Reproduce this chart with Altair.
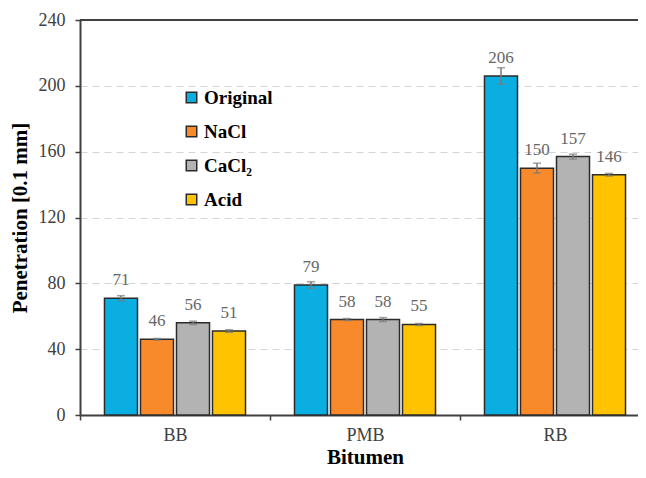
import altair as alt
import pandas as pd

bitumen = ["BB", "PMB", "RB"]
treatments = ["Original", "NaCl", "CaCl₂", "Acid"]
original = [71, 79, 206]
nacl = [46, 58, 150]
cacl2 = [56, 58, 157]
acid = [51, 55, 146]
original_err = [1.5, 2.0, 5.0]
nacl_err = [0.5, 0.6, 3.0]
cacl2_err = [1.0, 1.2, 1.5]
acid_err = [0.8, 0.6, 0.8]
colors = ["#0BAEE0", "#F98A2B", "#B3B3B3", "#FFC300"]
y_ticks = [0, 40, 80, 120, 160, 200, 240]

rows = []
for i, b in enumerate(bitumen):
    for t, vals, errs in zip(treatments, [original, nacl, cacl2, acid],
                             [original_err, nacl_err, cacl2_err, acid_err]):
        rows.append(dict(Bitumen=b, Treatment=t, value=vals[i], err=errs[i],
                         lo=vals[i] - errs[i], hi=vals[i] + errs[i]))
df = pd.DataFrame(rows)

FONT = "Liberation Serif"
DARK = "#404040"

x = alt.X("Bitumen:N", sort=bitumen,
          scale=alt.Scale(range=[0, 570], paddingInner=0, paddingOuter=0),
          axis=alt.Axis(title="Bitumen", labelAngle=0, tickBand="extent",
                        domainColor=DARK, domainWidth=2, tickColor=DARK, tickWidth=1.5,
                        tickSize=5, labelFont=FONT, labelFontSize=18, labelColor="#404040",
                        labelPadding=6, titleFont=FONT, titleFontSize=21,
                        titleFontWeight="bold", titleColor="black", titlePadding=2,
                        grid=False))
xoff = alt.XOffset("Treatment:N", sort=treatments,
                   scale=alt.Scale(paddingInner=0.083, paddingOuter=0.68))
yscale = alt.Scale(domain=[0, 240], nice=False)

base = alt.Chart(df)

bars = base.mark_bar(stroke="#2b2b2b", strokeWidth=1.5).encode(
    x=x,
    xOffset=xoff,
    y=alt.Y("value:Q", scale=yscale,
            axis=alt.Axis(title="Penetration  [0.1 mm]", values=y_ticks,
                          domainColor=DARK, domainWidth=2, tickColor=DARK, tickWidth=1.5,
                          tickSize=5, labelFont=FONT, labelFontSize=18, labelColor="#404040",
                          labelPadding=10, titleFont=FONT, titleFontSize=21,
                          titleFontWeight="bold", titleColor="black", titlePadding=8,
                          grid=True, gridColor="#d4d4d4", gridDash=[7, 5], gridWidth=1.2)),
    color=alt.Color("Treatment:N", sort=treatments,
                    scale=alt.Scale(domain=treatments, range=colors),
                    legend=alt.Legend(title=None, orient="none", legendX=102, legendY=68,
                                      symbolType="square", symbolSize=110,
                                      symbolStrokeColor="#2b2b2b", symbolStrokeWidth=1.5,
                                      labelFont=FONT, labelFontSize=19, labelFontWeight="bold",
                                      labelColor="black", rowPadding=14, padding=0,
                                      labelOffset=3)),
)

err_rule = base.mark_rule(color="#7a7a7a", strokeWidth=1.5).encode(
    x=x, xOffset=xoff, y=alt.Y("lo:Q", scale=yscale), y2="hi:Q")
cap_lo = base.mark_tick(color="#7a7a7a", size=8, thickness=1.5).encode(
    x=x, xOffset=xoff, y=alt.Y("lo:Q", scale=yscale))
cap_hi = base.mark_tick(color="#7a7a7a", size=8, thickness=1.5).encode(
    x=x, xOffset=xoff, y=alt.Y("hi:Q", scale=yscale))

labels = base.mark_text(font=FONT, fontSize=17, color="#666666", baseline="bottom",
                        dy=-9).encode(
    x=x, xOffset=xoff, y=alt.Y("value:Q", scale=yscale), text="value:Q")

top = alt.Chart(pd.DataFrame({"y": [240]})).mark_rule(color=DARK, strokeWidth=2).encode(
    y=alt.Y("y:Q", scale=yscale), x=alt.value(0), x2=alt.value(570))

chart = alt.layer(bars, err_rule, cap_lo, cap_hi, labels, top).properties(
    width=558, height=395,
    autosize=alt.AutoSizeParams(type="none"),
    padding={"left": 72, "top": 12, "right": 0, "bottom": 55},
).configure_view(stroke=None)

chart.save("out.html", embed_options={"renderer": "svg", "actions": False})
